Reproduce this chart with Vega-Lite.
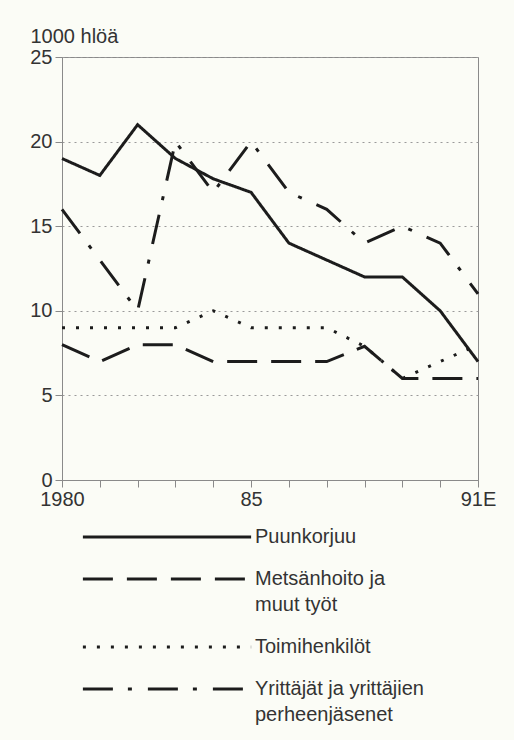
{
  "$schema": "https://vega.github.io/schema/vega-lite/v6.json",
  "width": 416,
  "height": 423,
  "autosize": {"type": "none"},
  "padding": {"left": 62, "top": 57, "right": 36, "bottom": 260},
  "background": "#fbfcf6",
  "config": {
    "font": "Liberation Sans",
    "view": {"stroke": "#8a8a8a", "strokeWidth": 1},
    "style": {"guide-label": {"lineHeight": 26}}
  },
  "data": {
    "values": [
      {"year": 1980, "series": "Puunkorjuu", "value": 19},
      {"year": 1981, "series": "Puunkorjuu", "value": 18},
      {"year": 1982, "series": "Puunkorjuu", "value": 21},
      {"year": 1983, "series": "Puunkorjuu", "value": 19},
      {"year": 1984, "series": "Puunkorjuu", "value": 17.8},
      {"year": 1985, "series": "Puunkorjuu", "value": 17},
      {"year": 1986, "series": "Puunkorjuu", "value": 14},
      {"year": 1987, "series": "Puunkorjuu", "value": 13},
      {"year": 1988, "series": "Puunkorjuu", "value": 12},
      {"year": 1989, "series": "Puunkorjuu", "value": 12},
      {"year": 1990, "series": "Puunkorjuu", "value": 10},
      {"year": 1991, "series": "Puunkorjuu", "value": 7},
      {"year": 1980, "series": "Metsänhoito ja muut työt", "value": 8},
      {"year": 1981, "series": "Metsänhoito ja muut työt", "value": 7},
      {"year": 1982, "series": "Metsänhoito ja muut työt", "value": 8},
      {"year": 1983, "series": "Metsänhoito ja muut työt", "value": 8},
      {"year": 1984, "series": "Metsänhoito ja muut työt", "value": 7},
      {"year": 1985, "series": "Metsänhoito ja muut työt", "value": 7},
      {"year": 1986, "series": "Metsänhoito ja muut työt", "value": 7},
      {"year": 1987, "series": "Metsänhoito ja muut työt", "value": 7},
      {"year": 1988, "series": "Metsänhoito ja muut työt", "value": 7.9},
      {"year": 1989, "series": "Metsänhoito ja muut työt", "value": 6},
      {"year": 1990, "series": "Metsänhoito ja muut työt", "value": 6},
      {"year": 1991, "series": "Metsänhoito ja muut työt", "value": 6},
      {"year": 1980, "series": "Toimihenkilöt", "value": 9},
      {"year": 1981, "series": "Toimihenkilöt", "value": 9},
      {"year": 1982, "series": "Toimihenkilöt", "value": 9},
      {"year": 1983, "series": "Toimihenkilöt", "value": 9},
      {"year": 1984, "series": "Toimihenkilöt", "value": 10},
      {"year": 1985, "series": "Toimihenkilöt", "value": 9},
      {"year": 1986, "series": "Toimihenkilöt", "value": 9},
      {"year": 1987, "series": "Toimihenkilöt", "value": 9},
      {"year": 1988, "series": "Toimihenkilöt", "value": 7.9},
      {"year": 1989, "series": "Toimihenkilöt", "value": 6},
      {"year": 1990, "series": "Toimihenkilöt", "value": 7},
      {"year": 1991, "series": "Toimihenkilöt", "value": 8},
      {"year": 1980, "series": "Yrittäjät ja yrittäjien perheenjäsenet", "value": 16},
      {"year": 1981, "series": "Yrittäjät ja yrittäjien perheenjäsenet", "value": 13},
      {"year": 1982, "series": "Yrittäjät ja yrittäjien perheenjäsenet", "value": 10},
      {"year": 1983, "series": "Yrittäjät ja yrittäjien perheenjäsenet", "value": 20},
      {"year": 1984, "series": "Yrittäjät ja yrittäjien perheenjäsenet", "value": 17},
      {"year": 1985, "series": "Yrittäjät ja yrittäjien perheenjäsenet", "value": 20},
      {"year": 1986, "series": "Yrittäjät ja yrittäjien perheenjäsenet", "value": 17},
      {"year": 1987, "series": "Yrittäjät ja yrittäjien perheenjäsenet", "value": 16},
      {"year": 1988, "series": "Yrittäjät ja yrittäjien perheenjäsenet", "value": 14},
      {"year": 1989, "series": "Yrittäjät ja yrittäjien perheenjäsenet", "value": 15},
      {"year": 1990, "series": "Yrittäjät ja yrittäjien perheenjäsenet", "value": 14},
      {"year": 1991, "series": "Yrittäjät ja yrittäjien perheenjäsenet", "value": 11}
    ]
  },
  "mark": {"type": "line", "color": "#1c1c1c", "strokeWidth": 3, "strokeCap": "butt"},
  "encoding": {
    "x": {
      "field": "year",
      "type": "quantitative",
      "scale": {"domain": [1980, 1991], "nice": false, "zero": false},
      "axis": {
        "title": null,
        "grid": false,
        "values": [1980, 1981, 1982, 1983, 1984, 1985, 1986, 1987, 1988, 1989, 1990, 1991],
        "labelExpr": "datum.value == 1980 ? '1980' : datum.value == 1985 ? '85' : datum.value == 1991 ? '91E' : ''",
        "labelFlush": false,
        "labelFontSize": 20,
        "labelColor": "#333333",
        "labelPadding": 2,
        "tickSize": 7,
        "tickColor": "#8a8a8a",
        "domainColor": "#8a8a8a"
      }
    },
    "y": {
      "field": "value",
      "type": "quantitative",
      "scale": {"domain": [0, 25], "nice": false},
      "axis": {
        "values": [0, 5, 10, 15, 20, 25],
        "grid": true,
        "gridDash": [2, 4],
        "gridColor": "#9a9a9a",
        "domainColor": "#8a8a8a",
        "tickColor": "#8a8a8a",
        "tickSize": 7,
        "labelFontSize": 20,
        "labelColor": "#333333",
        "labelPadding": 3,
        "title": "1000 hlöä",
        "titleAngle": 0,
        "titleX": -32,
        "titleY": -15,
        "titleAlign": "left",
        "titleBaseline": "alphabetic",
        "titleFontWeight": "normal",
        "titleFontSize": 20,
        "titleColor": "#333333"
      }
    },
    "strokeDash": {
      "field": "series",
      "type": "nominal",
      "scale": {
        "domain": ["Puunkorjuu", "Metsänhoito ja muut työt", "Toimihenkilöt", "Yrittäjät ja yrittäjien perheenjäsenet"],
        "range": [[1, 0], [30, 14], [3, 11], [30, 15, 4, 16]]
      },
      "legend": {
        "title": null,
        "orient": "none",
        "legendX": 95,
        "legendY": 470,
        "direction": "vertical",
        "padding": 0,
        "symbolType": "M-10.2,0H10.2",
        "symbolSize": 272,
        "symbolStrokeWidth": 3,
        "symbolStrokeColor": "#1c1c1c",
        "labelFontSize": 20,
        "labelColor": "#333333",
        "labelOffset": 78,
        "labelLimit": 300,
        "rowPadding": 22,
        "labelExpr": "datum.label == 'Metsänhoito ja muut työt' ? ['Metsänhoito ja', 'muut työt'] : datum.label == 'Yrittäjät ja yrittäjien perheenjäsenet' ? ['Yrittäjät ja yrittäjien', 'perheenjäsenet'] : datum.label"
      }
    }
  }
}
